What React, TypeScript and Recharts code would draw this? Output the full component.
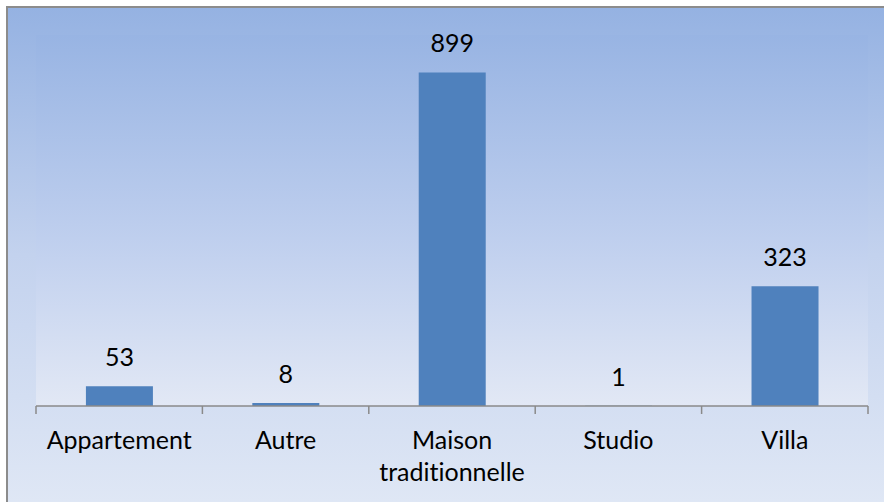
import React from 'react'
import { BarChart, Bar, XAxis, YAxis, CartesianGrid, LabelList } from 'recharts'

const categories = ['Appartement', 'Autre', 'Maison traditionnelle', 'Studio', 'Villa']
const categoryLines = [['Appartement'], ['Autre'], ['Maison', 'traditionnelle'], ['Studio'], ['Villa']]
const counts = [53, 8, 899, 1, 323]
const yDomain = [0, 1000]

const data = categories.map((name, i) => ({ name, count: counts[i] }))

const W = 876
const H = 494
const margin = { top: 27, right: 16, left: 28, bottom: 0 }
const plotWidth = W - margin.left - margin.right
const font = 'Lato, "Open Sans", sans-serif'
const axisGray = '#8a8a8a'
const noLig = { fontVariantLigatures: 'none' as const }

function CategoryTick(props: any) {
  const { x, y, index } = props
  const band = plotWidth / categories.length
  const lines = categoryLines[index] || [props.payload.value]
  return (
    <g>
      <line x1={x - band / 2} y1={y} x2={x - band / 2} y2={y + 8} stroke={axisGray} strokeWidth={1.5} />
      {index === categories.length - 1 && (
        <line x1={x + band / 2} y1={y} x2={x + band / 2} y2={y + 8} stroke={axisGray} strokeWidth={1.5} />
      )}
      <text x={x} y={y + 43} textAnchor="middle" fill="#000" fontSize={25} fontFamily={font} style={noLig}>
        {lines.map((l: string, i: number) => (
          <tspan key={i} x={x} dy={i === 0 ? 0 : 32}>
            {l}
          </tspan>
        ))}
      </text>
    </g>
  )
}

export default function App() {
  return (
    <div
      style={{
        position: 'absolute',
        left: 6,
        top: 6,
        width: 878,
        height: 496,
        boxSizing: 'border-box',
        borderLeft: '2px solid #8c8c8c',
        borderTop: '2px solid #8c8c8c',
        background: 'linear-gradient(to bottom, #95b2e2 0%, #c3d2ee 50%, #dfe7f5 100%)',
      }}
    >
      <BarChart width={W} height={H} data={data} margin={margin} barCategoryGap="30%">
        <defs>
          <linearGradient id="plotBg" x1="0" y1="0" x2="0" y2="1">
            <stop offset="0%" stopColor="#98b4e3" />
            <stop offset="55%" stopColor="#bfcfee" />
            <stop offset="100%" stopColor="#e2e8f5" />
          </linearGradient>
        </defs>
        <CartesianGrid horizontal={false} vertical={false} fill="url(#plotBg)" stroke="none" />
        <XAxis
          dataKey="name"
          height={96}
          interval={0}
          tickLine={false}
          tickSize={0}
          tickMargin={0}
          axisLine={{ stroke: axisGray, strokeWidth: 1.5 }}
          tick={<CategoryTick />}
        />
        <YAxis hide domain={yDomain} />
        <Bar dataKey="count" fill="#4f81bd" isAnimationActive={false}>
          <LabelList
            dataKey="count"
            position="top"
            offset={20}
            fill="#000"
            fontSize={25}
            fontFamily={font}
          />
        </Bar>
      </BarChart>
    </div>
  )
}
